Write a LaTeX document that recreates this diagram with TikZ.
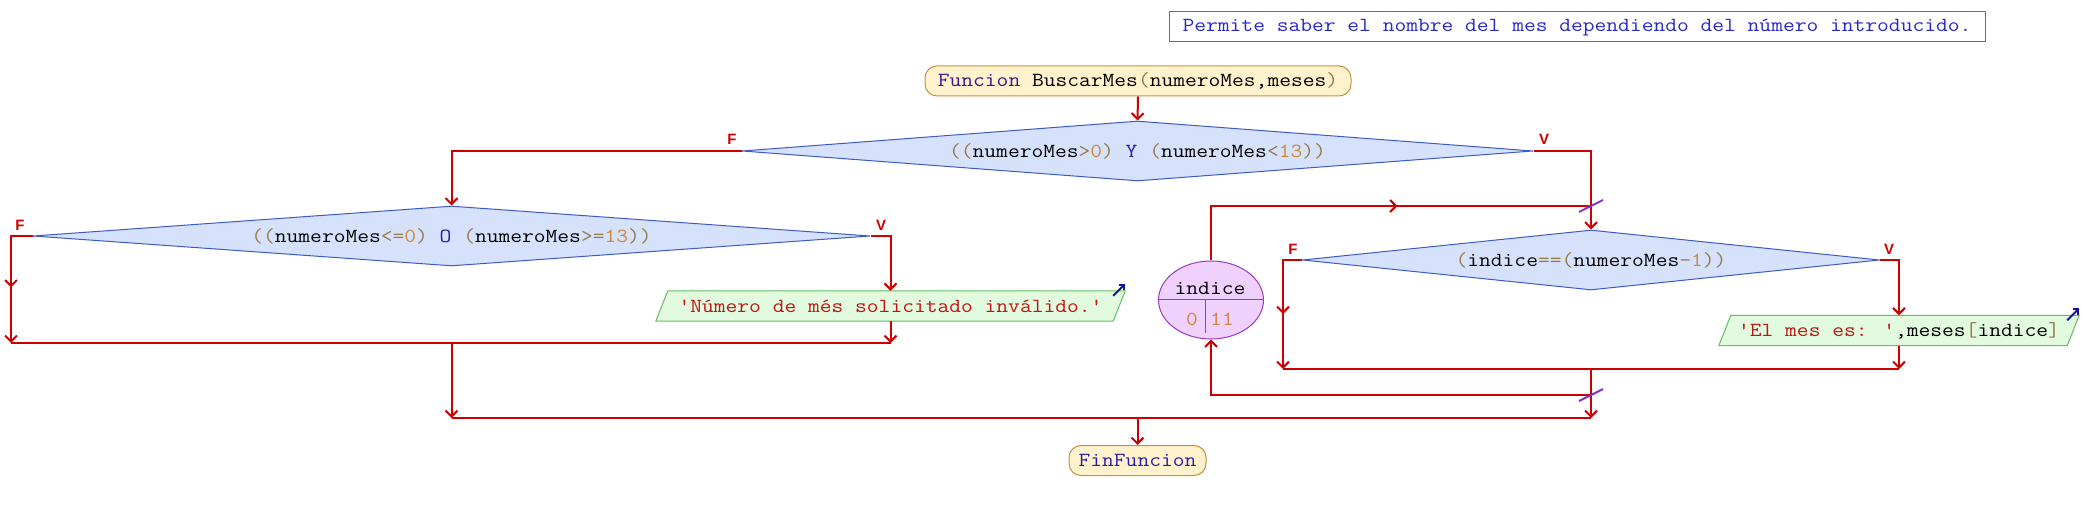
\documentclass[tikz,border=0pt]{standalone}
\usepackage{fontspec}
\usepackage{graphicx}
\newfontfamily\lblfont{Liberation Sans}
\usetikzlibrary{shapes.geometric,arrows.meta,decorations.markings}
\pgfdeclarelayer{bg}
\pgfsetlayers{bg,main}
\definecolor{connc}{RGB}{204,0,0}
\definecolor{decfill}{RGB}{214,226,252}
\definecolor{decdraw}{RGB}{60,90,200}
\definecolor{outfill}{RGB}{226,250,222}
\definecolor{outdraw}{RGB}{100,190,100}
\definecolor{termfill}{RGB}{255,242,204}
\definecolor{termdraw}{RGB}{200,145,60}
\definecolor{loopfill}{RGB}{240,208,252}
\definecolor{loopdraw}{RGB}{150,60,200}
\definecolor{slashc}{RGB}{130,50,200}
\definecolor{opc}{RGB}{150,120,70}
\definecolor{numc}{RGB}{205,135,60}
\definecolor{kwc}{RGB}{40,30,170}
\definecolor{fnc}{RGB}{60,20,140}
\definecolor{strc}{RGB}{190,20,20}
\definecolor{cmc}{RGB}{40,40,200}
\definecolor{cmbox}{RGB}{110,110,110}
\definecolor{outarrc}{RGB}{20,20,150}
\newcommand\op[1]{\textcolor{opc}{#1}}
\newcommand\nm[1]{\textcolor{numc}{#1}}
\newcommand\kw[1]{\textcolor{kwc}{#1}}
\newcommand\cw[1]{\scalebox{1.143}[1]{#1}}
\newcommand\qt{\textquotesingle}
\begin{document}
\begin{tikzpicture}[x=1pt,y=-1pt,
  every node/.style={font=\ttfamily\fontsize{20}{24}\selectfont, inner sep=0pt},
  cn/.style={draw=connc, line width=2pt},
  tip/.style={-{Straight Barb[length=6pt,width=12pt]}},
  midarrow/.style={postaction={decorate,decoration={markings,mark=at position #1 with {\arrow{Straight Barb[length=6pt,width=12pt]}}}}},
  decision/.style={diamond, aspect=13, draw=decdraw, fill=decfill, line width=1pt, minimum height=60pt},
  outbox/.style={rectangle, minimum height=30pt},
  term/.style={rectangle, rounded corners=12pt, draw=termdraw, fill=termfill, line width=1pt, minimum height=30pt},
  lbl/.style={font=\lblfont\bfseries\fontsize{15}{16}\selectfont, text=connc},
  outarr/.style={draw=outarrc, line width=2pt, -{Straight Barb[length=4pt,width=8pt]}},
  slash/.style={draw=slashc, line width=2pt}
]
\begin{pgfonlayer}{bg}
\fill[white] (0,0) rectangle (2083,510);
\end{pgfonlayer}
\useasboundingbox (0,0) rectangle (2083,510);

% comment
\node[draw=cmbox, fill=white, line width=1pt, minimum width=816pt, minimum height=30pt] (cm) at (1577,27)
  {\cw{\textcolor{cmc}{Permite saber el nombre del mes dependiendo del número introducido.}}};

% start / end
\node[term, minimum width=426pt] (start) at (1138,81)
  {\cw{\textcolor{fnc}{Funcion} BuscarMes\op{(}numeroMes,meses\op{)}}};
\node[term, minimum width=137pt] (end) at (1137.5,460.5) {\cw{\kw{FinFuncion}}};

% decisions
\node[decision, minimum width=791pt] (d1) at (1137.5,151)
  {\cw{\op{((}numeroMes\op{>}\nm{0}\op{)} \kw{Y} \op{(}numeroMes\op{<}\nm{13}\op{))}}};
\node[decision, minimum width=837pt] (d2) at (451.5,236)
  {\cw{\op{((}numeroMes\op{<=}\nm{0}\op{)} \kw{O} \op{(}numeroMes\op{>=}\nm{13}\op{))}}};
\node[decision, minimum width=577pt] (d3) at (1591,260)
  {\cw{\op{(}indice\op{==(}numeroMes\op{-}\nm{1}\op{))}}};

% outputs
\node[outbox, minimum width=469pt] (o1) at (890.5,306)
  {\cw{\textcolor{strc}{\qt Número de més solicitado inválido.\qt}}};
\node[outbox, minimum width=360pt] (o2) at (1899,330.5)
  {\cw{\textcolor{strc}{\qt El mes es: \qt},meses\op{[}indice\op{]}}};
\begin{pgfonlayer}{bg}
\foreach \o in {o1,o2}{
  \filldraw[fill=outfill, draw=outdraw, line width=1pt]
    ([xshift=12pt]\o.north west) -- (\o.north east) -- ([xshift=-12pt]\o.south east) -- (\o.south west) -- cycle;
}
\end{pgfonlayer}
\draw[outarr] ([shift={(-12,5)}]o1.north east) -- ([shift={(0,-7)}]o1.north east);
\draw[outarr] ([shift={(-12,5)}]o2.north east) -- ([shift={(0,-7)}]o2.north east);

% loop node
\node[ellipse, draw=loopdraw, fill=loopfill, line width=1pt, minimum width=105pt, minimum height=78pt] (loop) at (1211,300) {};
\draw[draw=loopdraw, line width=1pt] (loop.west) -- (loop.east);
\draw[draw=loopdraw, line width=1pt] (1205,300) -- (1205,333);
\node (lvar) at (1210,288) {\cw{indice}};
\node (lfrom) at (1192,319) {\cw{\nm{0}}};
\node (lto) at (1222,319) {\cw{\nm{11}}};

% labels
\node[lbl] (f1) at (732,139) {F};
\node[lbl] (v1) at (1544,139) {V};
\node[lbl] (f2) at (20,225) {F};
\node[lbl] (v2) at (881,225) {V};
\node[lbl] (f3) at (1293,249) {F};
\node[lbl] (v3) at (1889,249) {V};

% coordinates
\coordinate (j1l) at (11,343);
\coordinate (j1m) at (451.5,343);
\coordinate (j1r) at (890.5,343);
\coordinate (j2l) at (451.5,418);
\coordinate (j2m) at (1137.5,418);
\coordinate (j2r) at (1591,418);
\coordinate (j3l) at (1283,369);
\coordinate (j3m) at (1591,369);
\coordinate (j3r) at (1899,369);
\coordinate (lt) at (1591,206);
\coordinate (lb) at (1591,395);

% connectors
\draw[cn,tip] (start.south) -- (d1.north);
\draw[cn,tip] (d1.west) -| (d2.north);
\draw[cn,tip] (d1.east) -| (d3.north);
\draw[cn,tip,midarrow=73pt] (d2.west) -| (j1l);
\draw[cn,tip] (d2.east) -| (o1.north);
\draw[cn,tip] (o1.south) -- (j1r);
\draw[cn] (j1l) -- (j1r);
\draw[cn,tip] (j1m) -- (j2l);
\draw[cn] (j2l) -- (j2r);
\draw[cn,tip] (j3m) -- (j2r);
\draw[cn,tip] (j2m) -- (end.north);
\draw[cn,tip,midarrow=73pt] (d3.west) -| (j3l);
\draw[cn,tip] (d3.east) -| (o2.north);
\draw[cn,tip] (o2.south) -- (j3r);
\draw[cn] (j3l) -- (j3r);
\draw[cn,tip] (lb) -| (loop.south);
\draw[cn,midarrow=241pt] (loop.north) |- (lt);
\draw[slash] ([shift={(-12,6)}]lt) -- ([shift={(12,-6)}]lt);
\draw[slash] ([shift={(-12,6)}]lb) -- ([shift={(12,-6)}]lb);
\end{tikzpicture}
\end{document}
